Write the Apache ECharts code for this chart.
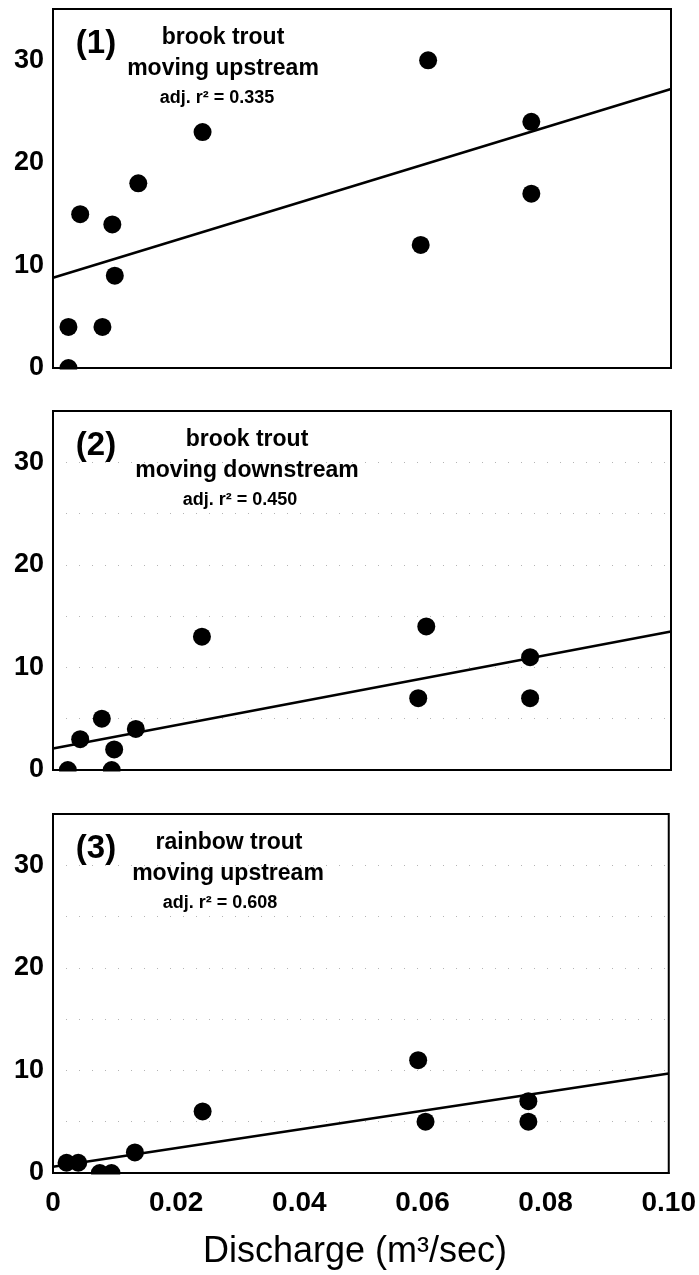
<!DOCTYPE html>
<html>
<head>
<meta charset="utf-8">
<script src="https://cdn.jsdelivr.net/npm/echarts@6/dist/echarts.min.js"></script>
<style>
    html, body { margin: 0; padding: 0; background: #fff; }
    #chart { width: 699px; height: 1275px; }
</style>
</head>
<body>
<div id="chart"></div>
<script>
// discharge (m3/sec) and fish counts
const discharge1 = [0.0025, 0.0025, 0.0044, 0.0080, 0.0096, 0.0100, 0.0138, 0.0242, 0.0595, 0.0607, 0.0774, 0.0774]
const count1 = [0, 4, 15, 4, 14, 9, 18, 23, 12, 30, 24, 17]

const discharge2 = [0.0024, 0.0044, 0.0079, 0.0095, 0.0099, 0.0134, 0.0241, 0.0591, 0.0604, 0.0772, 0.0772]
const count2 = [0, 3, 5, 0, 2, 4, 13, 7, 14, 11, 7]

const discharge3 = [0.0022, 0.0041, 0.0076, 0.0095, 0.0133, 0.0243, 0.0593, 0.0605, 0.0772, 0.0772]
const count3 = [1, 1, 0, 0, 2, 6, 11, 5, 7, 5]

// regression line value at discharge 0 and at 0.10
const fitStart = [8.8, 2.1, 0.6]
const fitEnd = [27.2, 13.5, 9.7]

const panelLabels = ['(1)', '(2)', '(3)']
const speciesLabels = ['brook trout', 'brook trout', 'rainbow trout']
const directionLabels = ['moving upstream', 'moving downstream', 'moving upstream']
const r2Labels = ['adj. r\u00b2 = 0.335', 'adj. r\u00b2 = 0.450', 'adj. r\u00b2 = 0.608']

const xTicks = [0, 0.02, 0.04, 0.06, 0.08, 0.10]
const xTickText = ['0', '0.02', '0.04', '0.06', '0.08', '0.10']

const FONT = '"Liberation Sans", Arial, sans-serif'
const gridTop = [9, 411, 814]
const gridH = 359
const gridLeft = 53
const gridW = 618
// text centre x per panel: [panel no, species, direction, r2]
const textX = [[96, 223, 223, 217], [96, 247, 247, 240], [96, 229, 228, 220]]

let chart = echarts.init(document.getElementById('chart'), null, { renderer: 'canvas' })

let grids = [], xAxes = [], yAxes = [], series = [], graphics = []
let xs = [discharge1, discharge2, discharge3]
let ys = [count1, count2, count3]

for (let i = 0; i < 3; i++) {
    grids.push({
        left: gridLeft, top: gridTop[i], width: gridW, height: gridH,
        show: true, borderColor: '#000', borderWidth: 2, backgroundColor: 'transparent'
    })
    xAxes.push({
        type: 'value', gridIndex: i, min: 0, max: 0.1, interval: 0.02,
        axisLine: { show: true, onZero: false, lineStyle: { color: '#000', width: 2 } },
        axisTick: { show: false },
        splitLine: { show: false },
        axisLabel: {
            show: i === 2, color: '#000', fontFamily: FONT, fontSize: 28, fontWeight: 'bold', margin: 16,
            formatter: function (v) {
                let k = xTicks.findIndex(t => Math.abs(t - v) < 1e-9)
                return k >= 0 ? xTickText[k] : ''
            }
        }
    })
    yAxes.push({
        type: 'value', gridIndex: i, min: 0, max: 35, interval: 5,
        axisLine: { show: true, lineStyle: { color: '#000', width: 2 } },
        axisTick: { show: false },
        splitLine: {
            show: i > 0,
            showMinLine: false,
            showMaxLine: false,
            lineStyle: { color: '#b4b4b4', width: 1, type: [1, 12] }
        },
        axisLabel: {
            color: '#000', fontFamily: FONT, fontSize: 27, fontWeight: 'bold', margin: 9,
            formatter: function (v) { return v % 10 === 0 ? String(v) : '' }
        }
    })
    series.push({
        type: 'scatter', xAxisIndex: i, yAxisIndex: i,
        data: xs[i].map((x, j) => [x, ys[i][j]]),
        symbol: 'circle', symbolSize: 18,
        itemStyle: { color: '#000', opacity: 1 },
        clip: false, z: 3
    })
    series.push({
        type: 'line', xAxisIndex: i, yAxisIndex: i,
        data: [[0, fitStart[i]], [0.1, fitEnd[i]]],
        showSymbol: false, silent: true,
        lineStyle: { color: '#000', width: 2.5 }, z: 4
    })

    let top = gridTop[i]
    let bottom = top + gridH
    // hide lower half of points sitting on the x axis
    graphics.push({
        type: 'rect', z: 50,
        shape: { x: gridLeft + 2, y: bottom + 1.5, width: gridW - 4, height: 11 },
        style: { fill: '#fff' }
    })
    graphics.push({
        type: 'text', z: 60, x: textX[i][0], y: top + 35,
        style: { text: panelLabels[i], font: 'bold 33px ' + FONT, fill: '#000', align: 'center', verticalAlign: 'middle' }
    })
    graphics.push({
        type: 'text', z: 60, x: textX[i][1], y: top + 29,
        style: { text: speciesLabels[i], font: 'bold 23px ' + FONT, fill: '#000', align: 'center', verticalAlign: 'middle' }
    })
    graphics.push({
        type: 'text', z: 60, x: textX[i][2], y: top + 60,
        style: { text: directionLabels[i], font: 'bold 23px ' + FONT, fill: '#000', align: 'center', verticalAlign: 'middle' }
    })
    graphics.push({
        type: 'text', z: 60, x: textX[i][3], y: top + 89,
        style: { text: r2Labels[i], font: 'bold 18px ' + FONT, fill: '#000', align: 'center', verticalAlign: 'middle' }
    })
}

graphics.push({
    type: 'text', z: 60, x: 355, y: 1252,
    style: { text: 'Discharge (m\u00b3/sec)', font: '36px ' + FONT, fill: '#000', align: 'center', verticalAlign: 'middle' }
})

let option = {
    animation: false,
    backgroundColor: '#fff',
    grid: grids,
    xAxis: xAxes,
    yAxis: yAxes,
    series: series,
    graphic: { elements: graphics }
}
chart.setOption(option)
</script>
</body>
</html>
